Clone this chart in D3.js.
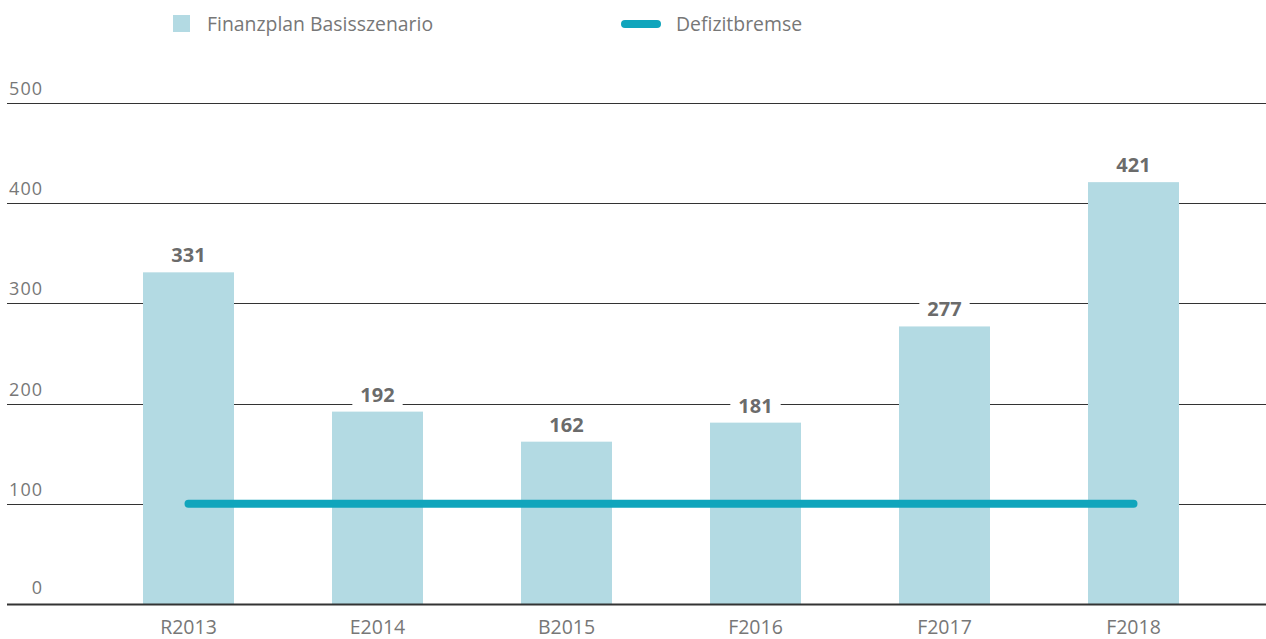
<!DOCTYPE html>
<html><head><meta charset="utf-8">
<script src="https://cdn.jsdelivr.net/npm/d3@7"></script>
<style>body{margin:0;background:#fff}svg{display:block;font-family:"Open Sans",sans-serif}</style>
</head><body><svg id="c" width="1266" height="639"></svg>
<script>
const categories = ["R2013","E2014","B2015","F2016","F2017","F2018"];
const basis = [331,192,162,181,277,421];
const bremse = [100,100,100,100,100,100];
const yTicks = [0,100,200,300,400,500];
const seriesNames = ["Finanzplan Basisszenario","Defizitbremse"];

const svg = d3.select("#c");
const barColor = "#b3dae3", lineColor = "#10a5bc", textColor = "#777", labelColor = "#6b6b6b";

const x = d3.scaleBand().domain(categories).range([94,1228]).paddingInner(0.5185).paddingOuter(0.2593);
const y = d3.scaleLinear().domain([0,500]).range([604,103]);

// gridlines
svg.append("g").selectAll("line").data(yTicks.filter(d=>d>0)).join("line")
  .attr("x1",7).attr("x2",1266).attr("y1",d=>Math.round(y(d))+0.5).attr("y2",d=>Math.round(y(d))+0.5)
  .attr("stroke","#333").attr("stroke-width",1);
// y labels
svg.append("g").selectAll("text").data(yTicks).join("text")
  .attr("x",43).attr("y",d=>y(d)-(d===0?10:8)).attr("text-anchor","end")
  .attr("fill",textColor).attr("font-size",18).attr("letter-spacing",1).text(d=>d);

// bars
svg.append("g").selectAll("rect").data(basis).join("rect")
  .attr("x",(d,i)=>x(categories[i])).attr("width",x.bandwidth())
  .attr("y",d=>y(d)).attr("height",d=>y(0)-y(d)).attr("fill",barColor);

// baseline
svg.append("line").attr("x1",7).attr("x2",1266).attr("y1",y(0)+0.5).attr("y2",y(0)+0.5)
  .attr("stroke","#333").attr("stroke-width",2);

// value labels
const lab = svg.append("g").selectAll("g").data(basis).join("g")
  .attr("transform",(d,i)=>`translate(${x(categories[i])+x.bandwidth()/2},${y(d)-10})`);
lab.append("text").attr("text-anchor","middle").attr("font-weight","bold").attr("font-size",20)
  .attr("fill",labelColor).text(d=>d);
lab.each(function(){
  const g=d3.select(this), t=g.select("text").node().getBBox();
  g.insert("rect","text").attr("x",t.x-8).attr("y",t.y-3).attr("width",t.width+16).attr("height",t.height+6).attr("fill","#fff");
});

// Defizitbremse line
const line = d3.line().x((d,i)=>x(categories[i])+x.bandwidth()/2).y(d=>y(d));
svg.append("path").attr("d",line(bremse)).attr("fill","none").attr("stroke",lineColor)
  .attr("stroke-width",8).attr("stroke-linecap","round");

// x labels
svg.append("g").selectAll("text").data(categories).join("text")
  .attr("x",d=>x(d)+x.bandwidth()/2).attr("y",634).attr("text-anchor","middle")
  .attr("fill",textColor).attr("font-size",19.5).text(d=>d);

// legend
const lg = svg.append("g");
lg.append("rect").attr("x",173).attr("y",15).attr("width",17).attr("height",17).attr("fill",barColor);
lg.append("text").attr("x",207).attr("y",31).attr("fill",textColor).attr("font-size",19.4).text(seriesNames[0]);
lg.append("line").attr("x1",625).attr("x2",657).attr("y1",24).attr("y2",24).attr("stroke",lineColor)
  .attr("stroke-width",8).attr("stroke-linecap","round");
lg.append("text").attr("x",676).attr("y",31).attr("fill",textColor).attr("font-size",19.4).text(seriesNames[1]);
</script></body></html>
